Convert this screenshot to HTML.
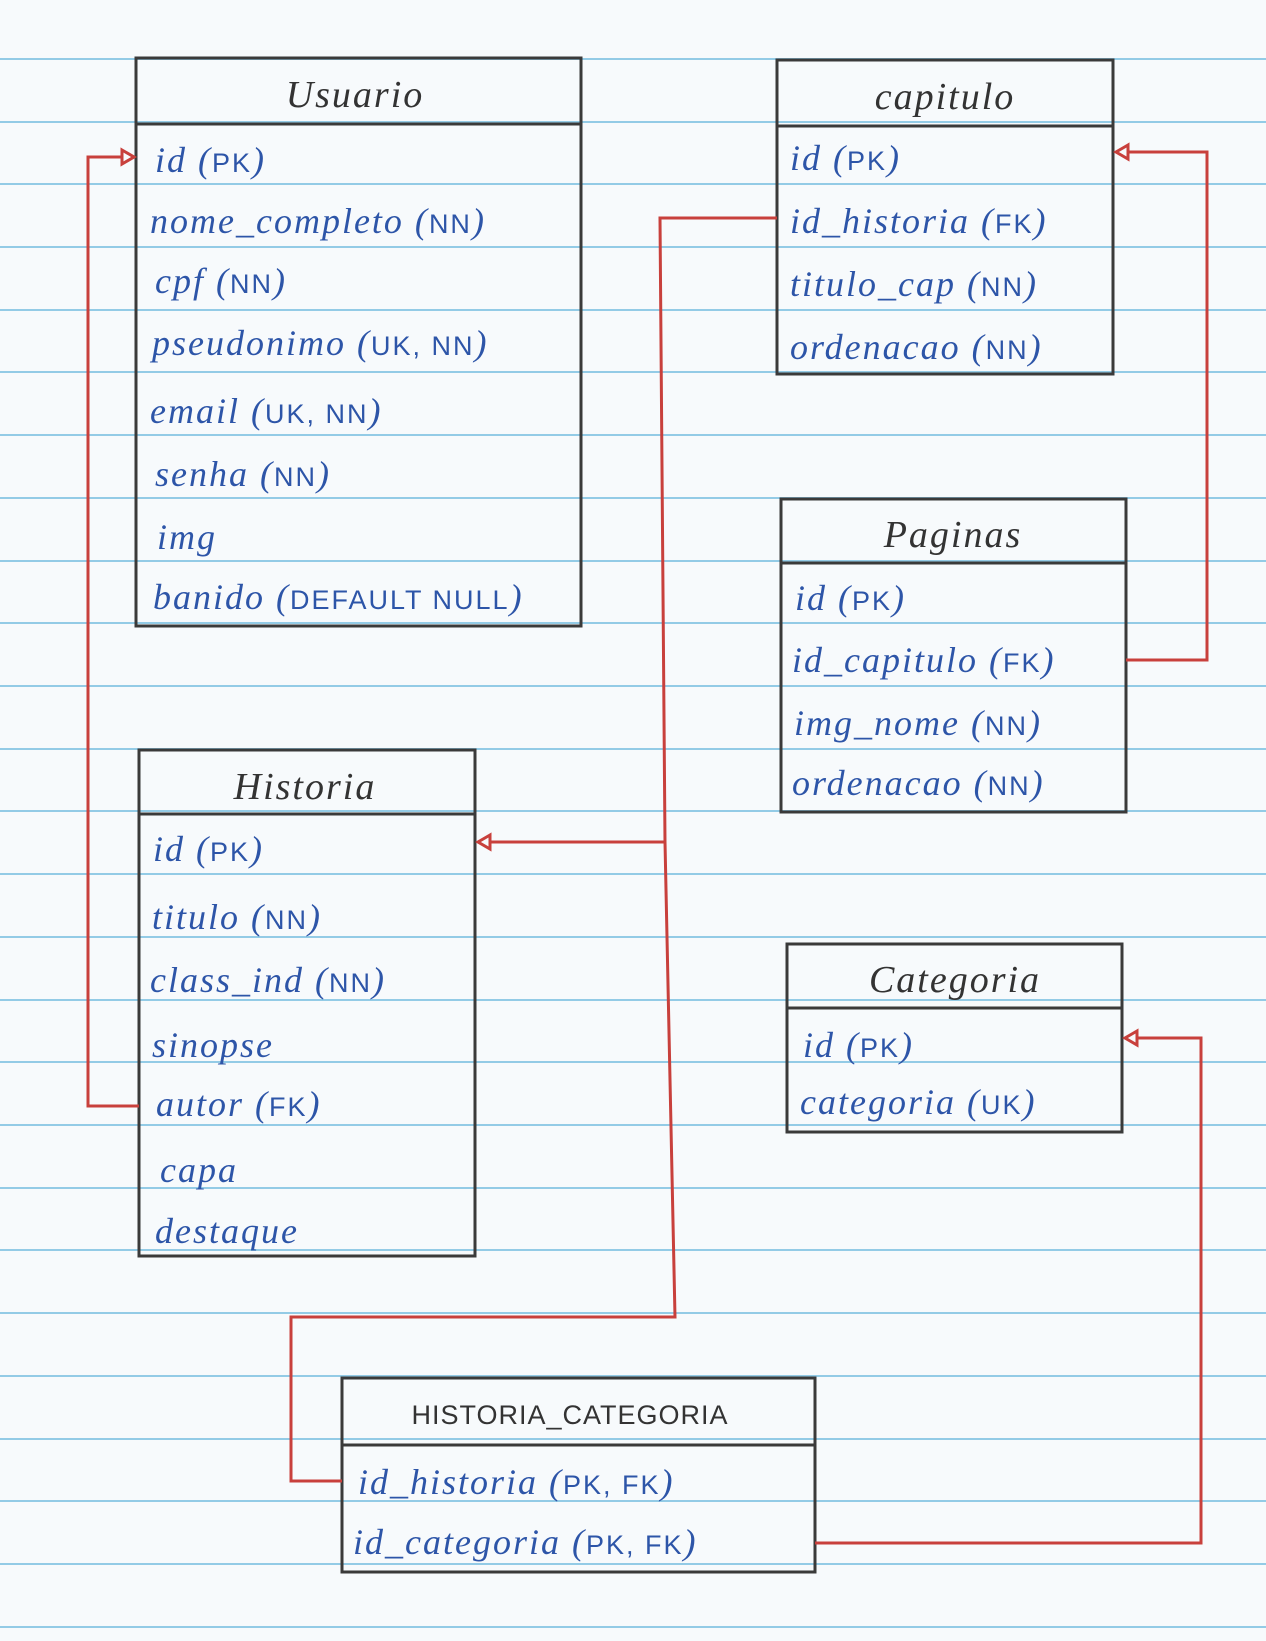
<!DOCTYPE html>
<html><head><meta charset="utf-8"><style>
html,body{margin:0;padding:0;background:#f7fafc;}
svg{display:block}
.t{font-family:"Liberation Serif","DejaVu Serif",serif;font-style:italic;fill:#2d55a8;font-size:36px;letter-spacing:2px}
.c{font-size:27px;font-style:normal;font-family:"Liberation Sans",sans-serif}
.h{font-family:"Liberation Serif","DejaVu Serif",serif;font-style:italic;fill:#333;font-size:38px;text-anchor:middle;letter-spacing:2px}
.b{fill:none;stroke:#3a3a3a;stroke-width:3}
.r{fill:none;stroke:#c8403c;stroke-width:3}
</style></head><body>
<svg width="1266" height="1641" viewBox="0 0 1266 1641" xmlns="http://www.w3.org/2000/svg">
<rect width="1266" height="1641" fill="#f7fafc"/>
<g stroke="#93cbe6" stroke-width="2">
<line x1="0" x2="1266" y1="59" y2="59"/><line x1="0" x2="1266" y1="122" y2="122"/><line x1="0" x2="1266" y1="184" y2="184"/><line x1="0" x2="1266" y1="247" y2="247"/><line x1="0" x2="1266" y1="310" y2="310"/><line x1="0" x2="1266" y1="372" y2="372"/><line x1="0" x2="1266" y1="435" y2="435"/><line x1="0" x2="1266" y1="498" y2="498"/><line x1="0" x2="1266" y1="561" y2="561"/><line x1="0" x2="1266" y1="623" y2="623"/><line x1="0" x2="1266" y1="686" y2="686"/><line x1="0" x2="1266" y1="749" y2="749"/><line x1="0" x2="1266" y1="811" y2="811"/><line x1="0" x2="1266" y1="874" y2="874"/><line x1="0" x2="1266" y1="937" y2="937"/><line x1="0" x2="1266" y1="1000" y2="1000"/><line x1="0" x2="1266" y1="1062" y2="1062"/><line x1="0" x2="1266" y1="1125" y2="1125"/><line x1="0" x2="1266" y1="1188" y2="1188"/><line x1="0" x2="1266" y1="1250" y2="1250"/><line x1="0" x2="1266" y1="1313" y2="1313"/><line x1="0" x2="1266" y1="1376" y2="1376"/><line x1="0" x2="1266" y1="1439" y2="1439"/><line x1="0" x2="1266" y1="1501" y2="1501"/><line x1="0" x2="1266" y1="1564" y2="1564"/><line x1="0" x2="1266" y1="1627" y2="1627"/>
</g>
<g>
<rect x="136" y="58" width="445" height="568" class="b"/><line class="b" x1="136" x2="581" y1="124" y2="124"/>
<rect x="777" y="60" width="336" height="314" class="b"/><line class="b" x1="777" x2="1113" y1="126" y2="126"/>
<rect x="781" y="499" width="345" height="313" class="b"/><line class="b" x1="781" x2="1126" y1="563" y2="563"/>
<rect x="139" y="750" width="336" height="506" class="b"/><line class="b" x1="139" x2="475" y1="814" y2="814"/>
<rect x="787" y="944" width="335" height="188" class="b"/><line class="b" x1="787" x2="1122" y1="1008" y2="1008"/>
<rect x="342" y="1378" width="473" height="194" class="b"/><line class="b" x1="342" x2="815" y1="1445" y2="1445"/>
</g>
<text class="h" x="355" y="107">Usuario</text>
<text class="h" x="945" y="109">capitulo</text>
<text class="h" x="953" y="547">Paginas</text>
<text class="h" x="305" y="799">Historia</text>
<text class="h" x="955" y="992">Categoria</text>
<text class="h" x="570" y="1424" style="font-style:normal;font-family:'Liberation Sans',sans-serif;font-size:27px;letter-spacing:1px">HISTORIA_CATEGORIA</text>
<g class="t">
<text x="155" y="172">id (<tspan class="c">PK</tspan>)</text>
<text x="150" y="233">nome_completo (<tspan class="c">NN</tspan>)</text>
<text x="155" y="293">cpf (<tspan class="c">NN</tspan>)</text>
<text x="152" y="355">pseudonimo (<tspan class="c">UK, NN</tspan>)</text>
<text x="150" y="423">email (<tspan class="c">UK, NN</tspan>)</text>
<text x="155" y="486">senha (<tspan class="c">NN</tspan>)</text>
<text x="157" y="549">img</text>
<text x="153" y="609">banido (<tspan class="c">DEFAULT NULL</tspan>)</text>
<text x="790" y="170">id (<tspan class="c">PK</tspan>)</text>
<text x="790" y="233">id_historia (<tspan class="c">FK</tspan>)</text>
<text x="790" y="296">titulo_cap (<tspan class="c">NN</tspan>)</text>
<text x="790" y="359">ordenacao (<tspan class="c">NN</tspan>)</text>
<text x="795" y="610">id (<tspan class="c">PK</tspan>)</text>
<text x="792" y="672">id_capitulo (<tspan class="c">FK</tspan>)</text>
<text x="794" y="735">img_nome (<tspan class="c">NN</tspan>)</text>
<text x="792" y="795">ordenacao (<tspan class="c">NN</tspan>)</text>
<text x="153" y="861">id (<tspan class="c">PK</tspan>)</text>
<text x="152" y="929">titulo (<tspan class="c">NN</tspan>)</text>
<text x="150" y="992">class_ind (<tspan class="c">NN</tspan>)</text>
<text x="152" y="1057">sinopse</text>
<text x="156" y="1116">autor (<tspan class="c">FK</tspan>)</text>
<text x="160" y="1182">capa</text>
<text x="155" y="1243">destaque</text>
<text x="803" y="1057">id (<tspan class="c">PK</tspan>)</text>
<text x="800" y="1114">categoria (<tspan class="c">UK</tspan>)</text>
<text x="358" y="1494">id_historia (<tspan class="c">PK, FK</tspan>)</text>
<text x="353" y="1554">id_categoria (<tspan class="c">PK, FK</tspan>)</text>
</g>
<g class="r">
<polyline points="139,1106 88,1106 88,157 122,157"/>
<polygon points="122,150 134,157 122,164" fill="#f7fafc"/>
<polyline points="777,218 660,218 665,842 675,1317 291,1317 291,1481 342,1481"/>
<polyline points="665,842 490,842"/>
<polygon points="490,835 478,842 490,849" fill="#f7fafc"/>
<polyline points="1126,660 1207,660 1207,152 1128,152"/>
<polygon points="1128,145 1116,152 1128,159" fill="#f7fafc"/>
<polyline points="815,1543 1201,1543 1201,1038 1137,1038"/>
<polygon points="1137,1031 1125,1038 1137,1045" fill="#f7fafc"/>
</g>
</svg>
</body></html>
